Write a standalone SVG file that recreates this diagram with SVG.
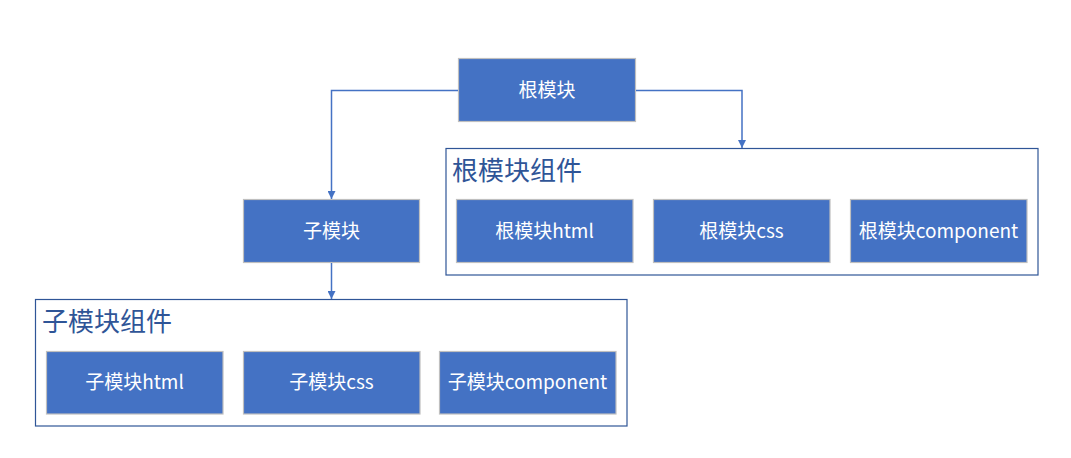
<svg xmlns="http://www.w3.org/2000/svg" width="1071" height="458" viewBox="0 0 1071 458">
<style>
.box{fill:#4472C4;stroke:#BFBFBF;stroke-width:1.2}
.cont{fill:#FFFFFF;stroke:#2F5597;stroke-width:1.2}
.lbl{font-family:"Noto Sans CJK SC","Microsoft YaHei",sans-serif;font-size:19px;fill:#FFFFFF;text-anchor:middle}
.ttl{font-family:"Noto Sans CJK SC","Microsoft YaHei",sans-serif;font-size:26px;fill:#2F5597}
.conn{fill:none;stroke:#4472C4;stroke-width:1.5}
</style>
<defs>
<marker id="arr" viewBox="0 0 10 10" refX="10" refY="5" markerWidth="8" markerHeight="8" markerUnits="userSpaceOnUse" orient="auto">
<path d="M0,0 L10,5 L0,10 z" fill="#4472C4"/>
</marker>
</defs>
<rect width="1071" height="458" fill="#FFFFFF"/>
<g id="root-components">
<rect class="cont" x="446" y="148.5" width="592" height="126.5"/>
<text class="ttl" x="452" y="168" dominant-baseline="central">根模块组件</text>
</g>
<g id="child-components">
<rect class="cont" x="35.5" y="299.5" width="591.5" height="126.5"/>
<text class="ttl" x="42" y="319" dominant-baseline="central">子模块组件</text>
</g>
<g id="root">
<rect class="box" x="458.5" y="58.5" width="177" height="63"/>
<text class="lbl" x="547" y="88.5" dominant-baseline="central">根模块</text>
</g>
<g id="child">
<rect class="box" x="243.5" y="199.5" width="176" height="63"/>
<text class="lbl" x="331.5" y="229.5" dominant-baseline="central">子模块</text>
</g>
<g id="root-html">
<rect class="box" x="456.5" y="199.5" width="176.5" height="63"/>
<text class="lbl" x="544.5" y="229.5" dominant-baseline="central">根模块html</text>
</g>
<g id="root-css">
<rect class="box" x="653.5" y="199.5" width="176.5" height="63"/>
<text class="lbl" x="741.5" y="229.5" dominant-baseline="central">根模块css</text>
</g>
<g id="root-component">
<rect class="box" x="850.5" y="199.5" width="176.5" height="63"/>
<text class="lbl" x="938.5" y="229.5" dominant-baseline="central">根模块component</text>
</g>
<g id="child-html">
<rect class="box" x="46.5" y="351.5" width="176.5" height="62.5"/>
<text class="lbl" x="134.5" y="380.5" dominant-baseline="central">子模块html</text>
</g>
<g id="child-css">
<rect class="box" x="243.5" y="351.5" width="176.5" height="62.5"/>
<text class="lbl" x="331.5" y="380.5" dominant-baseline="central">子模块css</text>
</g>
<g id="child-component">
<rect class="box" x="439.5" y="351.5" width="176.5" height="62.5"/>
<text class="lbl" x="527.5" y="380.5" dominant-baseline="central">子模块component</text>
</g>
<g id="connectors">
<path class="conn" d="M458,90.5 H331.5 V199" marker-end="url(#arr)"/>
<path class="conn" d="M636,90.5 H742 V148" marker-end="url(#arr)"/>
<path class="conn" d="M331.5,263 V299" marker-end="url(#arr)"/>
</g>
</svg>
